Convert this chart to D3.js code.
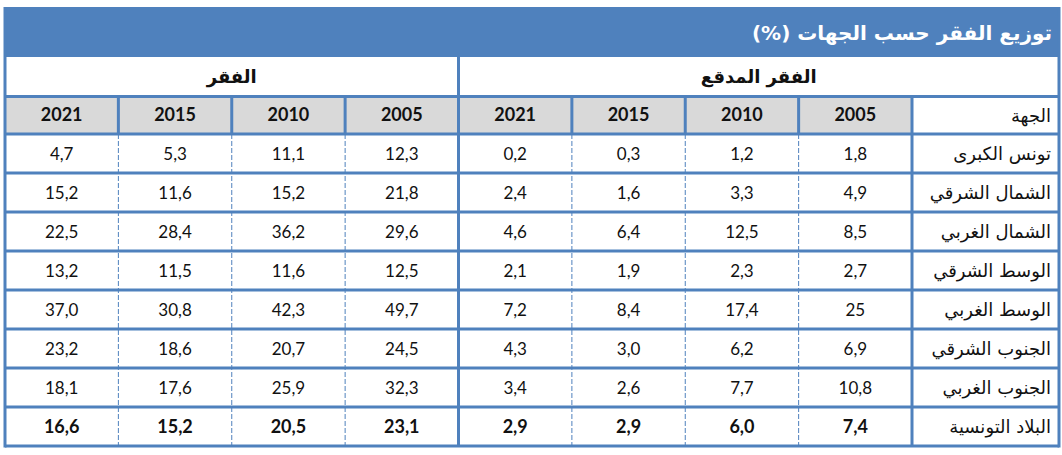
<!DOCTYPE html>
<html><head><meta charset="utf-8">
<script src="https://cdn.jsdelivr.net/npm/d3@7/dist/d3.min.js"></script>
<style>body{margin:0;background:#fff}svg{display:block}</style>
</head><body>
<svg id="c" width="1062" height="455"></svg>
<script>
const title = "توزيع الفقر حسب الجهات (%)";
const groupLabels = ["الفقر", "الفقر المدقع"];
const regionHeader = "الجهة";
const regions = ["تونس الكبرى","الشمال الشرقي","الشمال الغربي","الوسط الشرقي","الوسط الغربي","الجنوب الشرقي","الجنوب الغربي","البلاد التونسية"];
const years = ["2021","2015","2010","2005"];
// الفقر (poverty)
const poverty2005 = ["12,3","21,8","29,6","12,5","49,7","24,5","32,3","23,1"];
const poverty2010 = ["11,1","15,2","36,2","11,6","42,3","20,7","25,9","20,5"];
const poverty2015 = ["5,3","11,6","28,4","11,5","30,8","18,6","17,6","15,2"];
const poverty2021 = ["4,7","15,2","22,5","13,2","37,0","23,2","18,1","16,6"];
// الفقر المدقع (extreme poverty)
const extreme2005 = ["1,8","4,9","8,5","2,7","25","6,9","10,8","7,4"];
const extreme2010 = ["1,2","3,3","12,5","2,3","17,4","6,2","7,7","6,0"];
const extreme2015 = ["0,3","1,6","6,4","1,9","8,4","3,0","2,6","2,9"];
const extreme2021 = ["0,2","2,4","4,6","2,1","7,2","4,3","3,4","2,9"];

const columns = [
  {g:0, y:years[0], v:poverty2021},{g:0, y:years[1], v:poverty2015},{g:0, y:years[2], v:poverty2010},{g:0, y:years[3], v:poverty2005},
  {g:1, y:years[0], v:extreme2021},{g:1, y:years[1], v:extreme2015},{g:1, y:years[2], v:extreme2010},{g:1, y:years[3], v:extreme2005}
];

const BLUE = "#4F81BD", GRAY = "#D9D9D9";
const L = 5, R = 1059, REGX = 912;
const AR = "DejaVu Sans, sans-serif";
const svg = d3.select("#c");
const x = d3.scaleBand().domain(d3.range(columns.length)).range([L, REGX]);
const y = d3.scaleBand().domain(d3.range(regions.length)).range([134, 446]);
const titleTop = 7, titleBot = 57, grpBot = 96.5, hdrBot = 134;

// title band
svg.append("rect").attr("x", L).attr("y", titleTop).attr("width", R - L).attr("height", titleBot - titleTop).attr("fill", BLUE);
svg.append("text").attr("x", R - 7).attr("y", 40).attr("text-anchor", "start").attr("direction","rtl")
  .attr("font-family", AR).attr("font-weight", "bold").attr("font-size", 20).attr("fill", "#fff").text(title);

// header gray cells
svg.selectAll("rect.hdr").data(columns).join("rect").attr("class","hdr")
  .attr("x", (d,i) => x(i)).attr("y", grpBot).attr("width", x.bandwidth()).attr("height", hdrBot - grpBot).attr("fill", GRAY);

// group labels
const gx = [ (L + x(4)) / 2, (x(4) + R) / 2 ];
svg.selectAll("text.grp").data(groupLabels).join("text").attr("class","grp")
  .attr("x", (d,i) => gx[i]).attr("y", 83).attr("text-anchor","middle").attr("direction","rtl")
  .attr("font-family",AR).attr("font-weight","bold").attr("font-size",18).attr("fill","#111").text(d => d);

// year labels
svg.selectAll("text.yr").data(columns).join("text").attr("class","yr")
  .attr("x", (d,i) => x(i) + x.bandwidth()/2).attr("y", 121).attr("text-anchor","middle")
  .attr("font-family","Lato, sans-serif").attr("font-weight","bold").attr("font-size",18).attr("fill","#111").text(d => d.y);

svg.append("text").attr("x", R - 8).attr("y", 122).attr("text-anchor","start").attr("direction","rtl")
  .attr("font-family",AR).attr("font-size",18).attr("fill","#111").text(regionHeader);

// region names
svg.selectAll("text.reg").data(regions).join("text").attr("class","reg")
  .attr("x", R - 8).attr("y", (d,i) => y(i) + y.bandwidth()/2 + 6).attr("text-anchor","start").attr("direction","rtl")
  .attr("font-family",AR).attr("font-size",18).attr("fill","#111").text(d => d);

// values
const cells = [];
columns.forEach((c, ci) => c.v.forEach((v, ri) => cells.push({ci, ri, v})));
svg.selectAll("text.val").data(cells).join("text").attr("class","val")
  .attr("x", d => x(d.ci) + x.bandwidth()/2).attr("y", d => y(d.ri) + y.bandwidth()/2 + 6)
  .attr("text-anchor","middle").attr("font-family","Lato, sans-serif")
  .attr("font-weight", d => d.ri === regions.length - 1 ? "bold" : "normal")
  .attr("font-size", d => d.ri === regions.length - 1 ? 18 : 17).attr("fill","#111").text(d => d.v);

// borders
const thick = (x1,y1,x2,y2) => svg.append("line").attr("x1",x1).attr("y1",y1).attr("x2",x2).attr("y2",y2)
  .attr("stroke",BLUE).attr("stroke-width",3);
thick(L, grpBot, R, grpBot);
thick(L, hdrBot, R, hdrBot);
regions.forEach((r,i) => thick(L, y(i) + y.bandwidth(), R, y(i) + y.bandwidth()));
d3.range(1, columns.length).forEach(i => thick(x(i), grpBot, x(i), hdrBot));
thick(REGX, grpBot, REGX, y.range()[1]);
thick(x(4), titleBot, x(4), y.range()[1]);
d3.range(1, columns.length).filter(i => i !== 4).forEach(i =>
  svg.append("line").attr("x1", x(i)).attr("y1", hdrBot).attr("x2", x(i)).attr("y2", y.range()[1])
    .attr("stroke", BLUE).attr("stroke-width", 1).attr("stroke-dasharray", "5,2"));
thick(L, titleTop, L, y.range()[1] + 1.5);
thick(R, titleTop, R, y.range()[1] + 1.5);
</script>
</body></html>
